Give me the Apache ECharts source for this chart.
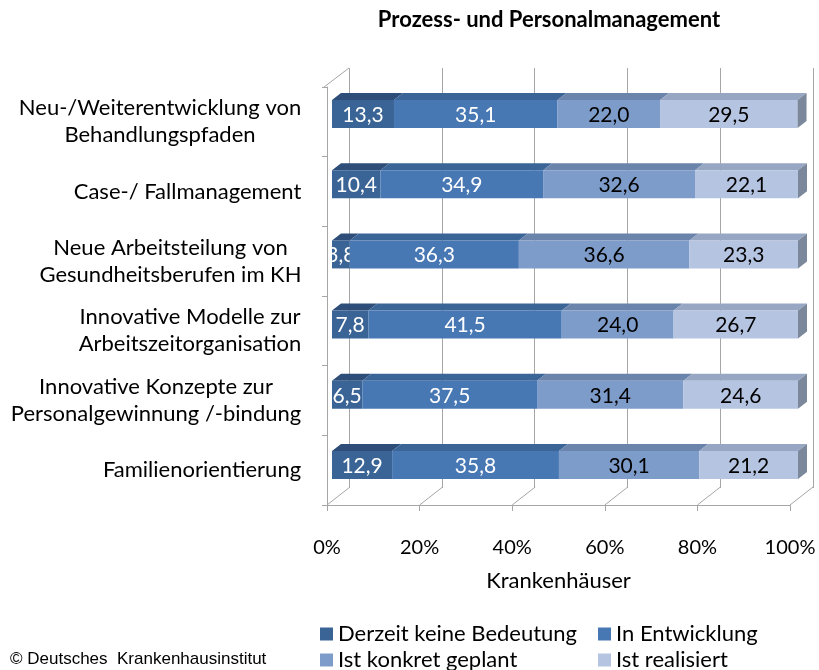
<!DOCTYPE html>
<html>
<head>
<meta charset="utf-8">
<script src="https://cdn.jsdelivr.net/npm/echarts@6/dist/echarts.min.js"></script>
<style>html,body{margin:0;padding:0;background:#fff;}#c{width:819px;height:670px;}</style>
</head>
<body>
<div id="c"></div>
<script>
const chartTitle = 'Prozess- und Personalmanagement';
const axisName = 'Krankenhäuser';
const sourceText = '© Deutsches  Krankenhausinstitut';
const categories = [
  'Neu-/Weiterentwicklung von\nBehandlungspfaden',
  'Case-/ Fallmanagement',
  'Neue Arbeitsteilung von\nGesundheitsberufen im KH',
  'Innovative Modelle zur\nArbeitszeitorganisation',
  'Innovative Konzepte zur\nPersonalgewinnung /-bindung',
  'Familienorientierung'
];
const seriesNames = ['Derzeit keine Bedeutung', 'In Entwicklung', 'Ist konkret geplant', 'Ist realisiert'];
const keineBedeutung = [13.3, 10.4, 3.8, 7.8, 6.5, 12.9];
const inEntwicklung = [35.1, 34.9, 36.3, 41.5, 37.5, 35.8];
const konkretGeplant = [22.0, 32.6, 36.6, 24.0, 31.4, 30.1];
const realisiert = [29.5, 22.1, 23.3, 26.7, 24.6, 21.2];
const xTicks = [0, 20, 40, 60, 80, 100];

const seriesValues = [keineBedeutung, inEntwicklung, konkretGeplant, realisiert];
const frontColors = ['#3B6496', '#4878B4', '#7E9CC9', '#B5C4E1'];
const topColors = ['#2E4E79', '#3B6497', '#6A84AB', '#97A6C2'];
const sideColor = '#7B879B';
const labelColors = ['#ffffff', '#ffffff', '#000000', '#000000'];
const FONT = 'Lato';
const LABEL_SIZE = 22;
const BAR_LABEL_SIZE = 21;

// measure label lines to centre multi-line labels
const mctx = document.createElement('canvas').getContext('2d');
mctx.font = LABEL_SIZE + 'px ' + FONT;
const rich = {};
categories.forEach((c, i) => {
  const w = Math.max(...c.split('\n').map(l => mctx.measureText(l).width));
  rich['c' + i] = { width: Math.ceil(w) + 1, align: 'center', fontSize: LABEL_SIZE, fontFamily: FONT, color: '#000', lineHeight: 27 };
});

const DX = 9, DY = 7, HALF = 14;
function barSeries(k) {
  const vals = seriesValues[k];
  const data = vals.map((v, i) => {
    let s = 0;
    for (let j = 0; j < k; j++) s += seriesValues[j][i];
    return [s, v, i];
  });
  return {
    type: 'custom', name: seriesNames[k], xAxisIndex: 0, yAxisIndex: 0,
    itemStyle: { color: frontColors[k] },
    encode: { x: [0], y: 2 },
    data: data,
    z: 10 + k,
    renderItem: function (params, api) {
      const s = api.value(0), v = api.value(1), ci = api.value(2);
      const p0 = api.coord([s, ci]);
      const p1 = api.coord([s + v, ci]);
      const left0 = api.coord([0, ci])[0];
      const yc = p0[1];
      const top = yc - HALF, bot = yc + HALF;
      const children = [
        { type: 'polygon', shape: { points: [[p0[0], top], [p1[0], top], [p1[0] + DX, top - DY], [p0[0] + DX, top - DY]] }, style: { fill: topColors[k] } },
        { type: 'rect', shape: { x: p0[0], y: top, width: p1[0] - p0[0], height: bot - top }, style: { fill: frontColors[k] } }
      ];
      if (k === seriesValues.length - 1) {
        children.push({ type: 'polygon', shape: { points: [[p1[0], top], [p1[0] + DX, top - DY], [p1[0] + DX, bot - DY], [p1[0], bot]] }, style: { fill: sideColor } });
      }
      children.push({
        type: 'group',
        clipPath: { type: 'rect', shape: { x: left0, y: top - 20, width: 1000, height: 80 } },
        children: [{
          type: 'text', x: (p0[0] + p1[0]) / 2, y: yc + 1,
          style: { text: v.toFixed(1).replace('.', ','), fill: labelColors[k], font: BAR_LABEL_SIZE + 'px ' + FONT, textAlign: 'center', textVerticalAlign: 'middle' }
        }]
      });
      return { type: 'group', children: children };
    }
  };
}

const FDX = 23, FDY = 18;
const frameSeries = {
  type: 'custom', xAxisIndex: 2, yAxisIndex: 2, silent: true,
  data: xTicks.map(t => [t]),
  encode: { x: 0 },
  z: 1,
  renderItem: function (params, api) {
    const cs = params.coordSys;
    const v = api.value(0);
    const x = api.coord([v, 0])[0];
    const bottom = cs.y + cs.height;
    const lines = [{ type: 'line', shape: { x1: x, y1: bottom, x2: x + FDX, y2: bottom - FDY }, style: { stroke: '#a6a6a6', lineWidth: 1 } }];
    if (v === xTicks[0]) {
      lines.push({ type: 'line', shape: { x1: cs.x - 3, y1: cs.y, x2: cs.x - 3 + FDX + 2, y2: cs.y - FDY - 1 }, style: { stroke: '#a6a6a6', lineWidth: 1 } });
    }
    return { type: 'group', children: lines };
  }
};

const legendText = { fontSize: LABEL_SIZE, fontFamily: FONT, color: '#000', lineHeight: 20 };
const legendPos = [[320, 623], [598, 623], [320, 649], [598, 649]];
const legends = seriesNames.map((n, i) => ({
  left: legendPos[i][0], top: legendPos[i][1], orient: 'horizontal', itemWidth: 13, itemHeight: 13, icon: 'rect',
  data: [n], textStyle: legendText, padding: 0
}));

const chart = echarts.init(document.getElementById('c'), null, { renderer: 'canvas' });
chart.setOption({
  animation: false,
  backgroundColor: '#fff',
  graphic: [
    { type: 'text', x: 549, y: 20, style: { text: chartTitle, font: 'bold 22px ' + FONT, fill: '#000', textAlign: 'center', textVerticalAlign: 'middle' } },
    { type: 'text', x: 10, y: 659, style: { text: sourceText, font: '17px "Liberation Sans"', fill: '#000', textAlign: 'left', textVerticalAlign: 'middle' } }
  ],
  legend: legends,
  grid: [
    { left: 332, width: 466, top: 79, height: 421 },
    { left: 349, width: 464, top: 68, height: 420 },
    { left: 327, width: 463, top: 87, height: 418 }
  ],
  xAxis: [
    { gridIndex: 0, type: 'value', min: 0, max: 100, interval: 20, show: false },
    { gridIndex: 1, type: 'value', min: 0, max: 100, interval: 20, axisLine: { show: false }, axisTick: { show: false }, axisLabel: { show: false }, splitLine: { show: true, lineStyle: { color: '#a6a6a6', width: 1 } } },
    { gridIndex: 2, type: 'value', min: 0, max: 100, interval: 20,
      axisLine: { show: true, lineStyle: { color: '#a6a6a6', width: 1 } },
      axisTick: { show: true, length: 6, lineStyle: { color: '#a6a6a6' } },
      splitLine: { show: false },
      axisLabel: { formatter: '{value}%', fontSize: 20, fontFamily: FONT, color: '#000', margin: 33 },
      name: axisName, nameLocation: 'middle', nameGap: 65,
      nameTextStyle: { fontSize: LABEL_SIZE, fontFamily: FONT, color: '#000' } }
  ],
  yAxis: [
    { gridIndex: 0, type: 'category', inverse: true, data: categories.map((c, i) => i), show: false },
    { gridIndex: 1, type: 'value', show: false, min: 0, max: 1 },
    { gridIndex: 2, type: 'category', inverse: true, data: categories, offset: 3,
      axisLine: { show: true, lineStyle: { color: '#a6a6a6', width: 1 } },
      axisTick: { show: true, length: 5, lineStyle: { color: '#a6a6a6' } },
      axisLabel: { margin: 22, rich: rich,
        formatter: function (val, idx) { return val.split('\n').map(l => '{c' + idx + '|' + l + '}').join('\n'); } } }
  ],
  series: [frameSeries, barSeries(0), barSeries(1), barSeries(2), barSeries(3)]
});
</script>
</body>
</html>
